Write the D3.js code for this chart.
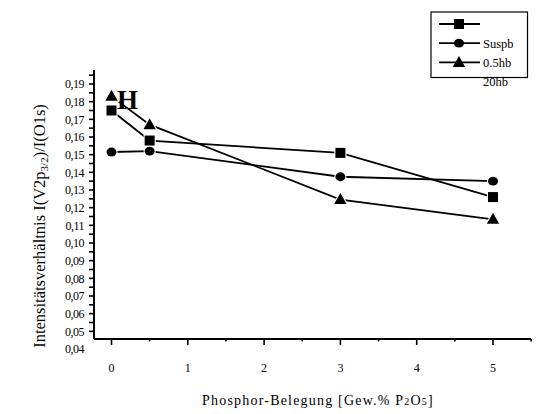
<!DOCTYPE html>
<html><head><meta charset="utf-8">
<script src="https://cdn.jsdelivr.net/npm/d3@7"></script>
<style>body{margin:0;background:#fff}svg{display:block}</style>
</head><body>
<script>
const xValues = [0, 0.5, 3, 5];
const squareValues = [0.175, 0.158, 0.151, 0.126];
const circleValues = [0.1515, 0.152, 0.1375, 0.135];
const triangleValues = [0.183, 0.167, 0.1246, 0.1134];
const xTickLabels = [0, 1, 2, 3, 4, 5];
const yTickLabels = ["0,04","0,05","0,06","0,07","0,08","0,09","0,10","0,11","0,12","0,13","0,14","0,15","0,16","0,17","0,18","0,19"];
const legendLabels = ["", "Suspb", "0.5hb", "20hb"];

const W = 538, H = 414;
const svg = d3.select("body").append("svg").attr("width", W).attr("height", H)
  .attr("font-family", "'Liberation Serif', 'Times New Roman', 'DejaVu Serif', serif");

const x = d3.scaleLinear().domain([0, 5]).range([111.5, 493]);
const y = d3.scaleLinear().domain([0.04, 0.19]).range([349, 84]);
const axisY = 339, axisX = 94;
const yTop = y.invert(70);
const xRight = 5.5;

// axis lines
svg.append("line").attr("x1", axisX).attr("x2", x(xRight)).attr("y1", axisY).attr("y2", axisY)
  .attr("stroke", "#000").attr("stroke-width", 2);
svg.append("line").attr("x1", axisX).attr("x2", axisX).attr("y1", y(yTop)).attr("y2", axisY)
  .attr("stroke", "#000").attr("stroke-width", 2);

// y ticks every 0.005
const yTicks = d3.range(0.05, 0.1951, 0.005);
svg.append("g").selectAll("line").data(yTicks).join("line")
  .attr("x1", axisX - 5).attr("x2", axisX).attr("y1", d => y(d)).attr("y2", d => y(d))
  .attr("stroke", "#000").attr("stroke-width", 1.6);
// y tick labels
svg.append("g").selectAll("text").data(yTickLabels).join("text")
  .attr("x", 84).attr("y", (d, i) => y(0.04 + i * 0.01)).attr("dy", "0.35em")
  .attr("text-anchor", "end").attr("font-size", 12).attr("letter-spacing", -0.5).text(d => d);

// x ticks
const xMinor = d3.range(0.5, 5.51, 1);
svg.append("g").selectAll("line").data(xTickLabels).join("line")
  .attr("x1", d => x(d)).attr("x2", d => x(d)).attr("y1", axisY).attr("y2", axisY + 6)
  .attr("stroke", "#000").attr("stroke-width", 1.6);
svg.append("g").selectAll("line").data(xMinor).join("line")
  .attr("x1", d => x(d)).attr("x2", d => x(d)).attr("y1", axisY).attr("y2", axisY + 2.5)
  .attr("stroke", "#000").attr("stroke-width", 1.6);
svg.append("g").selectAll("text").data(xTickLabels).join("text")
  .attr("x", d => x(d)).attr("y", 368).attr("dy", "0.35em")
  .attr("text-anchor", "middle").attr("font-size", 12).text(d => d);

// axis titles
const xt = svg.append("text").attr("x", 318).attr("y", 405).attr("text-anchor", "middle")
  .attr("font-size", 14).attr("letter-spacing", 1.2);
xt.append("tspan").text("Phosphor-Belegung [Gew.% P");
xt.append("tspan").attr("font-size", 10).text("2");
xt.append("tspan").text("O");
xt.append("tspan").attr("font-size", 10).text("5");
xt.append("tspan").text("]");

const yt = svg.append("text").attr("transform", "translate(45,226) rotate(-90)").attr("text-anchor", "middle")
  .attr("font-size", 16.5);
yt.append("tspan").text("Intensitätsverhältnis I(V2p");
yt.append("tspan").attr("font-size", 11).attr("dy", 3).text("3/2");
yt.append("tspan").attr("dy", -3).text(")/I(O1s)");

// series
const series = [
  { vals: squareValues, type: "square" },
  { vals: circleValues, type: "circle" },
  { vals: triangleValues, type: "triangle" }
];
const line = d3.line().x(d => x(d[0])).y(d => y(d[1]));
const marker = (g, type) => {
  if (type === "square") return g.append("rect").attr("x", -5).attr("y", -5).attr("width", 10).attr("height", 10);
  if (type === "circle") return g.append("ellipse").attr("rx", 5).attr("ry", 4.4);
  return g.append("path").attr("d", "M0,-6.5L6.2,4.5L-6.2,4.5Z");
};
series.forEach(s => {
  svg.append("path").datum(xValues.map((v, i) => [v, s.vals[i]])).attr("d", line)
    .attr("fill", "none").attr("stroke", "#000").attr("stroke-width", 1.8);
});
series.forEach(s => {
  xValues.forEach((v, i) => {
    const g = svg.append("g").attr("transform", `translate(${x(v)},${y(s.vals[i])})`);
    marker(g, s.type).attr("fill", "#000").attr("stroke", "#fff").attr("stroke-width", 2.2)
      .attr("paint-order", "stroke");
  });
});

// H label
svg.append("text").attr("x", 117).attr("y", 109).attr("font-size", 27).attr("font-weight", "bold").text("H");

// legend
const lg = svg.append("g");
const types = ["square", "circle", "triangle"];
legendLabels.forEach((lab, i) => {
  const cy = 24 + i * 19.2;
  if (i < 3) {
    lg.append("line").attr("x1", 439).attr("x2", 480).attr("y1", cy).attr("y2", cy)
      .attr("stroke", "#000").attr("stroke-width", 1.8);
    const g = lg.append("g").attr("transform", `translate(459,${cy})`);
    marker(g, types[i]).attr("fill", "#000");
  }
  lg.append("text").attr("x", 483).attr("y", cy).attr("dy", "0.35em").attr("font-size", 12.5).text(lab);
});
lg.append("rect").attr("x", 431).attr("y", 12).attr("width", 96.5).attr("height", 65.5)
  .attr("fill", "none").attr("stroke", "#000").attr("stroke-width", 1.2);
</script>
</body></html>
